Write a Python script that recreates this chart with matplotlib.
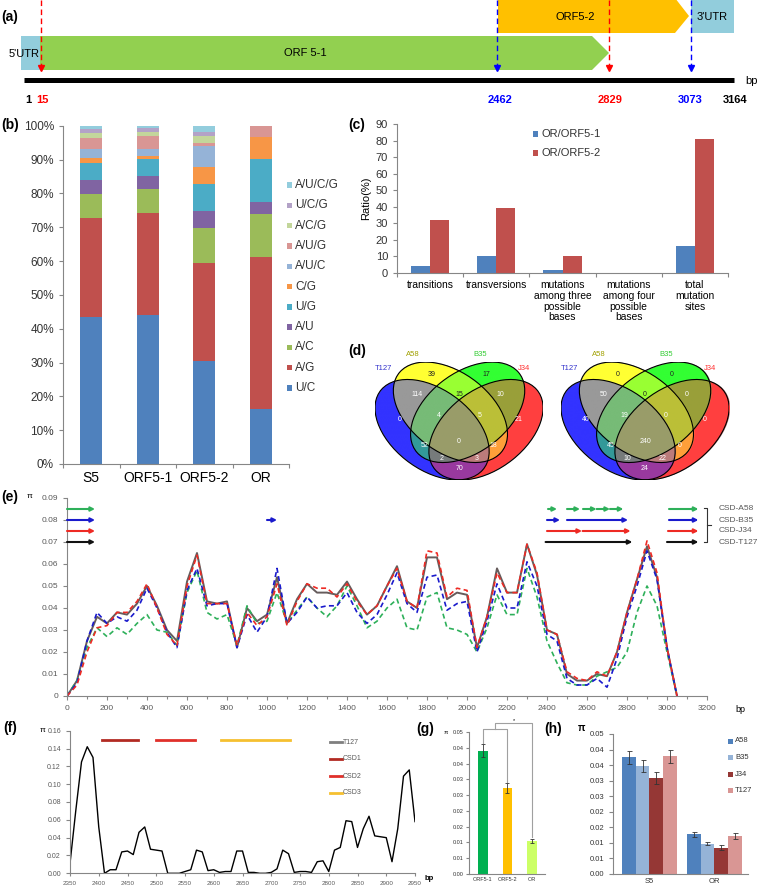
import numpy as np
import matplotlib
matplotlib.use('Agg')
import matplotlib.pyplot as plt
from matplotlib.patches import Polygon, Rectangle, Ellipse
from matplotlib.ticker import FuncFormatter, MultipleLocator

plt.rcParams['font.family'] = ['Liberation Sans', 'DejaVu Sans']

# ---------------- data ----------------
# (a) genome landmarks
a_marks = ['1', '15', '2462', '2829', '3073', '3164']
a_mark_colors = ['black', 'red', 'blue', 'red', 'blue', 'black']

# (b) composition of mutation sites (%)
b_groups = ['S5', 'ORF5-1', 'ORF5-2', 'OR']
b_types = ['U/C', 'A/G', 'A/C', 'A/U', 'U/G', 'C/G', 'A/U/C', 'A/U/G', 'A/C/G', 'U/C/G', 'A/U/C/G']
b_uc = [43.4, 44.1, 30.3, 16.2]
b_ag = [29.4, 30.0, 29.2, 45.0]
b_ac = [7.0, 7.1, 10.3, 12.8]
b_au = [4.1, 3.9, 4.9, 3.3]
b_ug = [5.0, 5.0, 8.0, 13.0]
b_cg = [1.5, 1.0, 5.2, 6.4]
b_auc = [2.7, 2.0, 6.1, 0.0]
b_aug = [3.3, 3.8, 1.0, 3.3]
b_acg = [1.4, 1.3, 1.9, 0.0]
b_ucg = [1.2, 1.1, 1.1, 0.0]
b_aucg = [1.0, 0.7, 2.0, 0.0]
b_colors = ['#4f81bd', '#c0504d', '#9bbb59', '#8064a2', '#4bacc6', '#f79646',
            '#95b3d7', '#d99694', '#c3d69b', '#b3a2c7', '#93cddd']

# (c) ratio (%)
c_cats = ['transitions', 'transversions', 'mutations\namong three\npossible\nbases',
          'mutations\namong four\npossible\nbases', 'total\nmutation\nsites']
c_orf51 = [4.0, 10.2, 2.0, 0.0, 16.1]
c_orf52 = [32.1, 39.4, 10.0, 0.0, 81.1]

# (d) venn counts, keys = T127 A58 B35 J34 membership
venn_names = ['T127', 'A58', 'B35', 'J34']
venn_left = {'1000': 0, '0100': 39, '0010': 17, '0001': 21, '1100': 114, '0110': 15,
             '0011': 10, '1110': 4, '0111': 5, '1111': 0, '1010': 52, '0101': 18,
             '1011': 2, '1101': 3, '1001': 70}
venn_right = {'1000': 40, '0100': 0, '0010': 0, '0001': 0, '1100': 50, '0110': 0,
              '0011': 0, '1110': 19, '0111': 0, '1111': 240, '1010': 45, '0101': 0,
              '1011': 10, '1101': 22, '1001': 24}

# (e) sliding window nucleotide diversity
e_bp = list(range(0, 3100, 50))
e_t127 = [0, .007, .025, .036, .033, .038, .037, .042, .050, .041, .030, .025, .052, .065, .043,
          .042, .043, .022, .040, .034, .037, .054, .033, .044, .051, .047, .047, .046, .052, .044,
          .037, .041, .050, .059, .043, .040, .063, .063, .044, .047, .046, .022, .036, .058, .047,
          .047, .069, .055, .030, .028, .010, .007, .007, .010, .009, .020, .038, .053, .068, .054,
          .022, 0]
e_j34 = [0, .005, .020, .031, .032, .038, .038, .043, .051, .040, .028, .023, .050, .064, .042,
         .042, .042, .023, .038, .032, .036, .051, .032, .043, .051, .049, .049, .045, .051, .043,
         .037, .041, .050, .058, .043, .040, .066, .065, .045, .049, .048, .022, .036, .056, .047,
         .047, .069, .056, .030, .028, .011, .008, .007, .011, .009, .020, .038, .053, .0705, .056,
         .022, 0]
e_b35 = [0, .006, .025, .038, .033, .036, .034, .039, .049, .040, .029, .022, .048, .058, .041,
         .042, .042, .022, .037, .029, .036, .058, .033, .038, .045, .040, .041, .041, .047, .038,
         .033, .037, .046, .056, .042, .038, .054, .055, .039, .042, .043, .020, .034, .051, .040,
         .040, .061, .050, .028, .025, .008, .005, .005, .008, .004, .017, .036, .050, .066, .053,
         .022, 0]
e_a58 = [0, .007, .022, .031, .027, .031, .028, .033, .037, .030, .029, .023, .047, .057, .038,
         .035, .037, .023, .041, .033, .034, .047, .033, .039, .045, .040, .036, .041, .050, .041,
         .031, .034, .040, .044, .031, .030, .045, .047, .031, .030, .028, .020, .031, .046, .037,
         .037, .058, .045, .025, .015, .006, .005, .005, .009, .011, .013, .020, .038, .050, .041,
         .020, 0]
# conserved structural domains (bp ranges) per strain
csd_a58 = [(0, 140), (2405, 2450), (2500, 2565), (2580, 2648), (2648, 2715), (2715, 2782), (3010, 3157)]
csd_b35 = [(0, 140), (1000, 1050), (2400, 2465), (2500, 2805), (3010, 3157)]
csd_j34 = [(0, 140), (2400, 2575), (2578, 2818), (3005, 3157)]
csd_t127 = [(0, 140), (2393, 2827), (3000, 3157)]

# (f) T127 OR region
f_bp = list(range(2350, 2960, 10))
f_pi = [.011, .070, .125, .142, .130, .052, .000, .004, .004, .024, .025, .021, .046, .052, .027,
        .026, .025, .000, .000, .000, .002, .004, .026, .024, .003, .004, .001, .002, .002, .025,
        .025, .001, .001, .000, .000, .001, .005, .026, .022, .001, .002, .002, .001, .013, .014,
        .002, .026, .029, .059, .058, .029, .050, .064, .042, .041, .040, .013, .050, .109, .116,
        .058]
f_csd1 = (2405, 2468)
f_csd2 = (2500, 2567)
f_csd3 = (2612, 2732)

# (g)
g_cats = ['ORF5-1', 'ORF5-2', 'OR']
g_vals = [0.0391, 0.0272, 0.0105]
g_err = [0.0020, 0.0016, 0.0007]
g_ticklabels = ['0.00', '0.01', '0.01', '0.02', '0.02', '0.03', '0.03', '0.04', '0.04', '0.05']

# (h)
h_groups = ['S5', 'OR']
h_strains = ['A58', 'B35', 'J34', 'T127']
h_a58 = [0.0375, 0.0128]
h_b35 = [0.0348, 0.0097]
h_j34 = [0.0308, 0.0085]
h_t127 = [0.0378, 0.0122]
h_a58_err = [0.0021, 0.0008]
h_b35_err = [0.0019, 0.0005]
h_j34_err = [0.0019, 0.0007]
h_t127_err = [0.0021, 0.0009]

# ---------------- figure ----------------
W, H = 761, 889
fig = plt.figure(figsize=(W / 100, H / 100), dpi=100)


def px_axes(x0, y0, x1, y1):
    return fig.add_axes([x0 / W, 1 - y1 / H, (x1 - x0) / W, (y1 - y0) / H])


def excel_style(ax, fs, lc='#333333'):
    for s in ('top', 'right'):
        ax.spines[s].set_visible(False)
    for s in ('left', 'bottom'):
        ax.spines[s].set_color('#868686')
        ax.spines[s].set_linewidth(0.8)
    ax.tick_params(labelsize=fs, color='#868686', labelcolor=lc, length=3, width=0.8)


ov = px_axes(0, 0, W, H)
ov.set_xlim(0, W)
ov.set_ylim(H, 0)
ov.axis('off')
ov.set_zorder(10)
ov.patch.set_alpha(0)

# ---- (a) genome map ----
ov.add_patch(Rectangle((21, 36), 20, 34, fc='#92cddc', ec='none'))
ov.add_patch(Polygon([(40, 36), (592, 36), (609, 53), (592, 70), (40, 70)], fc='#92d050', ec='none'))
ov.add_patch(Polygon([(498, -2), (675, -2), (689, 16), (675, 33), (498, 33)], fc='#ffc000', ec='none'))
ov.add_patch(Rectangle((691, -2), 43, 35, fc='#92cddc', ec='none'))
ov.text(305, 53, 'ORF 5-1', fontsize=8, ha='center', va='center')
ov.text(575, 17, 'ORF5-2', fontsize=8, ha='center', va='center')
ov.text(24, 54, "5'UTR", fontsize=8, ha='center', va='center')
ov.text(712, 17, "3'UTR", fontsize=8, ha='center', va='center')
for xl, c in zip([41, 497, 609, 691], ['red', 'blue', 'red', 'blue']):
    ov.plot([xl, xl], [0, 66], color=c, lw=1, ls=(0, (4, 2.5)))
    ov.plot([xl], [68], marker='v', ms=4, color=c, mec=c)
ov.plot([24, 734], [80, 80], color='black', lw=3.6, solid_capstyle='butt')
ov.text(745, 81, 'bp', fontsize=8, va='center')
for lab, c, xl in zip(a_marks, a_mark_colors, [28, 42, 500, 610, 690, 735]):
    ov.text(xl, 100, lab, color=c, fontsize=8, fontweight='bold', ha='center', va='center')

# panel labels
for lab, x, y in [('(a)', 10, 17), ('(b)', 10, 125), ('(c)', 357, 125), ('(d)', 357, 351),
                  ('(e)', 10, 497), ('(f)', 10, 728), ('(g)', 425, 729), ('(h)', 553, 729)]:
    ov.text(x, y, lab, fontsize=10, fontweight='bold', ha='center', va='center')

# ---- (b) stacked bars ----
ax_b = px_axes(63, 125.7, 289, 464)
b_series = [b_uc, b_ag, b_ac, b_au, b_ug, b_cg, b_auc, b_aug, b_acg, b_ucg, b_aucg]
xb = np.arange(len(b_groups))
bottom = np.zeros(len(b_groups))
for vals, col in zip(b_series, b_colors):
    ax_b.bar(xb, vals, 0.39, bottom=bottom, color=col, linewidth=0)
    bottom += np.array(vals)
ax_b.set_xlim(-0.5, 3.5)
ax_b.set_ylim(0, 100)
ax_b.set_yticks(range(0, 101, 10))
ax_b.yaxis.set_major_formatter(FuncFormatter(lambda v, p: f'{v:.0f}%'))
ax_b.set_xticks(np.arange(-0.5, 4, 1))
ax_b.set_xticklabels([])
ax_b.set_xticks(xb, minor=True)
ax_b.set_xticklabels(b_groups, minor=True)
excel_style(ax_b, 8.5)
ax_b.tick_params(axis='x', which='minor', length=0, pad=5)
for i, (name, col) in enumerate(zip(b_types[::-1], b_colors[::-1])):
    y = 185 + 20.3 * i
    ov.add_patch(Rectangle((287, y - 2.7), 5.4, 5.4, fc=col, ec='none'))
    ov.text(295, y, name, fontsize=8.5, va='center', color='#333333')

# ---- (c) grouped bars ----
ax_c = px_axes(397, 124, 728, 273)
xc = np.arange(len(c_cats))
ax_c.bar(xc - 0.145, c_orf51, 0.29, color='#4f81bd', label='OR/ORF5-1')
ax_c.bar(xc + 0.145, c_orf52, 0.29, color='#c0504d', label='OR/ORF5-2')
ax_c.set_xlim(-0.5, 4.5)
ax_c.set_ylim(0, 90)
ax_c.set_yticks(range(0, 91, 10))
ax_c.set_xticks(np.arange(-0.5, 5, 1))
ax_c.set_xticklabels([])
ax_c.set_xticks(xc, minor=True)
ax_c.set_xticklabels(c_cats, minor=True, linespacing=1.1)
excel_style(ax_c, 8)
ax_c.tick_params(axis='x', which='minor', length=0, pad=5, labelsize=7.4)
ax_c.set_ylabel('Ratio(%)', fontsize=8, labelpad=3)
for i, (name, col) in enumerate(zip(['OR/ORF5-1', 'OR/ORF5-2'], ['#4f81bd', '#c0504d'])):
    y = 134 + 19 * i
    ov.add_patch(Rectangle((533, y - 2.7), 5.4, 5.4, fc=col, ec='none'))
    ov.text(541, y, name, fontsize=8, va='center', color='#333333')

# ---- (d) venn diagrams ----
v_cx = [0.350, 0.450, 0.544, 0.644]
v_cy = [0.400, 0.500, 0.500, 0.400]
v_ang = [140, 140, 40, 40]
v_fill = np.array([[0.2, 0.2, 1.0], [1.0, 1.0, 0.2], [0.2, 1.0, 0.2], [1.0, 0.25, 0.25]])
v_pos = {'1000': (0.175, 0.46), '0100': (0.35, 0.72), '0010': (0.645, 0.72), '0001': (0.82, 0.46),
         '1100': (0.27, 0.60), '0110': (0.497, 0.60), '0011': (0.725, 0.60), '1110': (0.385, 0.48),
         '0111': (0.61, 0.48), '1111': (0.497, 0.335), '1010': (0.31, 0.31), '0101': (0.685, 0.31),
         '1011': (0.40, 0.235), '1101': (0.594, 0.235), '1001': (0.497, 0.175)}
vx0, vx1, vy0, vy1 = 0.0386, 0.955, 0.111, 0.789


def venn4(ax, counts):
    xs = np.linspace(vx0, vx1, 600)
    ys = np.linspace(vy0, vy1, 440)
    X, Y = np.meshgrid(xs, ys)
    inside = []
    for cx, cy, a in zip(v_cx, v_cy, v_ang):
        t = np.deg2rad(a)
        dx, dy = X - cx, Y - cy
        u = dx * np.cos(t) + dy * np.sin(t)
        v = -dx * np.sin(t) + dy * np.cos(t)
        inside.append(((u / 0.36) ** 2 + (v / 0.225) ** 2) <= 1)
    inside = np.array(inside, dtype=float).transpose(1, 2, 0)
    n = inside.sum(axis=2)
    rgb = inside @ v_fill / np.maximum(n, 1)[..., None]
    img = np.dstack([rgb, (n > 0).astype(float)])
    ax.imshow(img, extent=(vx0, vx1, vy0, vy1), origin='lower', aspect='auto', interpolation='bilinear')
    for cx, cy, a in zip(v_cx, v_cy, v_ang):
        ax.add_patch(Ellipse((cx, cy), 0.72, 0.45, angle=a, fill=False, ec='black', lw=0.8))
    for key, val in counts.items():
        dark = key in ('0100', '0010', '0110')
        ax.text(*v_pos[key], str(val), fontsize=5, ha='center', va='center',
                color='#222222' if dark else 'white')
    ax.set_xlim(vx0, vx1)
    ax.set_ylim(vy0, vy1)
    ax.axis('off')


name_cols = ['#3333cc', '#a0a000', '#33cc33', '#ff3333']
for off, counts in [(0, venn_left), (186, venn_right)]:
    axv = px_axes(375 + off, 362, 543 + off, 480)
    venn4(axv, counts)
    for name, col, (x, y) in zip(venn_names, name_cols, [(383, 369), (413, 354), (480, 354), (524, 369)]):
        ov.text(x + off, y, name, fontsize=5.5, color=col, ha='center', va='center')

# ---- (e) sliding window ----
ax_e = px_axes(67, 498, 707, 696)
ax_e.plot(e_bp, e_t127, color='#665c5c', lw=1.4)
ax_e.plot(e_bp, e_a58, color='#2eb05a', lw=1.2, ls=(0, (3, 2)))
ax_e.plot(e_bp, e_b35, color='#1a1acc', lw=1.2, ls=(0, (3, 2)))
ax_e.plot(e_bp, e_j34, color='#ee2a24', lw=1.2, ls=(0, (3, 2)))
csd_cols = ['#2eb05a', '#1a1acc', '#ee2a24', '#111111']
for ranges, y, c in zip([csd_a58, csd_b35, csd_j34, csd_t127], [0.085, 0.08, 0.075, 0.07], csd_cols):
    for x0, x1 in ranges:
        ax_e.annotate('', xy=(x1, y), xytext=(x0, y),
                      arrowprops=dict(arrowstyle='-|>', color=c, lw=1.5, mutation_scale=6,
                                      shrinkA=0, shrinkB=0))
ax_e.set_xlim(0, 3200)
ax_e.set_ylim(0, 0.09)
ax_e.set_xticks(range(0, 3201, 200))
ax_e.xaxis.set_minor_locator(MultipleLocator(100))
ax_e.set_yticks(np.arange(0, 0.091, 0.01))
ax_e.yaxis.set_major_formatter(FuncFormatter(lambda v, p: '0' if abs(v) < 1e-9 else f'{v:.2f}'))
excel_style(ax_e, 6, '#595959')
ax_e.tick_params(which='minor', length=2, color='#868686', width=0.8)
ov.text(30, 497, 'π', fontsize=6, ha='center', va='center')
ov.text(735, 709, 'bp', fontsize=6.5, va='center')
for i, name in enumerate(['CSD-A58', 'CSD-B35', 'CSD-J34', 'CSD-T127']):
    ov.text(719, 509 + 11 * i, name, fontsize=6, va='center', color='#595959')
ov.plot([704, 707, 707, 704], [508, 508, 542, 542], color='#333333', lw=0.8)
ov.plot([707, 711], [525, 525], color='#333333', lw=0.8)

# ---- (f) T127 detail ----
ax_f = px_axes(70, 730.7, 415, 873.3)
ax_f.plot(f_bp, f_pi, color='black', lw=1)
ax_f.plot(f_csd1, [0.15, 0.15], color='#b22a22', lw=2)
ax_f.plot(f_csd2, [0.15, 0.15], color='#e0302a', lw=2)
ax_f.plot(f_csd3, [0.15, 0.15], color='#f5c030', lw=2)
ax_f.set_xlim(2350, 2950)
ax_f.set_ylim(0, 0.16)
ax_f.set_xticks(range(2350, 2951, 50))
ax_f.set_yticks(np.arange(0, 0.161, 0.02))
ax_f.yaxis.set_major_formatter(FuncFormatter(lambda v, p: f'{v:.2f}'))
excel_style(ax_f, 5, '#595959')
ax_f.tick_params(axis='x', labelsize=4.5, length=2)
ov.text(43, 731, 'π', fontsize=6, ha='center', va='center')
ov.text(425, 879, 'bp', fontsize=5.5, va='center', fontweight='bold')
for i, (name, col) in enumerate(zip(['T127', 'CSD1', 'CSD2', 'CSD3'],
                                    ['#7f7f7f', '#b22a22', '#e0302a', '#f5c030'])):
    y = 742 + 17 * i
    ov.plot([330, 342], [y, y], color=col, lw=2)
    ov.text(343, y, name, fontsize=5, va='center', color='#595959')

# ---- (g) ORF diversity ----
ax_g = px_axes(469, 732, 545, 874)
xg = np.arange(len(g_cats))
ax_g.bar(xg, g_vals, 0.4, color=['#00b050', '#ffc000', '#ccff66'],
         yerr=g_err, error_kw=dict(ecolor='#333333', elinewidth=0.6, capsize=1.5, capthick=0.6))
tops = [v + e + 0.0004 for v, e in zip(g_vals, g_err)]
ax_g.plot([0, 0, 1, 1], [tops[0], 0.046, 0.046, tops[1]], color='#a0a0a0', lw=0.8, clip_on=False)
ax_g.plot([0.5, 0.5, 2, 2], [0.046, 0.0478, 0.0478, tops[2]], color='#a0a0a0', lw=0.8, clip_on=False)
ax_g.text(1.25, 0.0479, '*', fontsize=4, ha='center', va='bottom')
ax_g.set_xlim(-0.57, 2.53)
ax_g.set_ylim(0, 0.045)
ax_g.set_yticks(np.linspace(0, 0.045, 10))
ax_g.set_yticklabels(g_ticklabels)
ax_g.set_xticks(xg)
ax_g.set_xticklabels(g_cats)
excel_style(ax_g, 4, '#333333')
ax_g.tick_params(axis='x', length=0, pad=2)
ax_g.tick_params(axis='y', length=2, pad=2)
ov.text(446, 732, 'π', fontsize=4.5, ha='center', va='center')

# ---- (h) strain diversity ----
ax_h = px_axes(613, 734, 748, 874)
xh = np.arange(len(h_groups))
h_cols = ['#4f81bd', '#95b3d7', '#953735', '#d99694']
for k, (vals, errs, col, name) in enumerate(zip([h_a58, h_b35, h_j34, h_t127],
                                                 [h_a58_err, h_b35_err, h_j34_err, h_t127_err],
                                                 h_cols, h_strains)):
    ax_h.bar(xh + (k - 1.5) * 0.21, vals, 0.21, color=col, yerr=errs,
             error_kw=dict(ecolor='#333333', elinewidth=0.6, capsize=1.8, capthick=0.6))
    y = 741 + 16.5 * k
    ov.add_patch(Rectangle((728, y - 2.5), 5, 5, fc=col, ec='none'))
    ov.text(735, y, name, fontsize=5.5, va='center', color='#333333')
ax_h.set_xlim(-0.56, 1.52)
ax_h.set_ylim(0, 0.045)
ax_h.set_yticks(np.linspace(0, 0.045, 10))
ax_h.set_yticklabels(g_ticklabels)
ax_h.set_xticks(xh)
ax_h.set_xticklabels(h_groups)
excel_style(ax_h, 5.5, '#333333')
ax_h.tick_params(axis='x', length=0, pad=3)
ov.text(582, 728, 'π', fontsize=7, ha='center', va='center', fontweight='bold')

fig.savefig('out.png', dpi=100)
